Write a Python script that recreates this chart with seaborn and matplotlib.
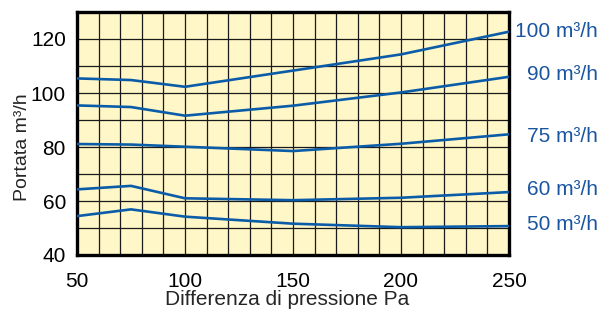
import matplotlib
matplotlib.use("Agg")
import matplotlib.pyplot as plt
import matplotlib.transforms as mtransforms
import seaborn as sns
import pandas as pd

pressure = [50, 75, 100, 150, 200, 250]
flow_100 = [105.4, 104.8, 102.3, 108.3, 114.3, 122.7]
flow_90 = [95.4, 94.8, 91.6, 95.3, 100.2, 106.0]
flow_75 = [81.1, 80.9, 80.1, 78.5, 81.2, 84.7]
flow_60 = [64.3, 65.6, 61.0, 60.3, 61.2, 63.3]
flow_50 = [54.4, 56.9, 54.2, 51.6, 50.3, 50.7]
series_labels = ["100 m³/h", "90 m³/h", "75 m³/h", "60 m³/h", "50 m³/h"]
label_y = [122.7, 106.7, 83.8, 64.1, 51.4]
x_ticks = [50, 100, 150, 200, 250]
y_ticks = [40, 60, 80, 100, 120]

sns.set_theme(style="white")
plt.rcParams['font.family'] = ['Liberation Sans', 'DejaVu Sans']

rows = []
for lab, vals in zip(series_labels, [flow_100, flow_90, flow_75, flow_60, flow_50]):
    for p, v in zip(pressure, vals):
        rows.append({"pressure": p, "flow": v, "series": lab})
df = pd.DataFrame(rows)

fig = plt.figure(figsize=(6.03, 3.11), dpi=100)
ax = fig.add_axes([77/603, 1-255/311, 432/603, 243/311])
ax.set_facecolor("#FFF7C8")

line_color = "#0B5CA8"
sns.lineplot(data=df, x="pressure", y="flow", units="series", estimator=None,
             color=line_color, lw=1.9, ax=ax, zorder=3, sort=False)

ax.set_xlim(50, 250)
ax.set_ylim(40, 130)
for gx in range(60, 250, 10):
    ax.axvline(gx, color="#1a1a1a", lw=0.9, zorder=1)
for gy in range(50, 130, 10):
    ax.axhline(gy, color="#1a1a1a", lw=0.9, zorder=1)

ax.set_xticks(x_ticks)
ax.set_yticks(y_ticks)
ax.tick_params(axis="both", length=0, labelsize=15, colors="black")
ax.tick_params(axis="y", pad=8)
ax.tick_params(axis="x", pad=12)
for s in ax.spines.values():
    s.set_color("black")
    s.set_linewidth(2.4)
    s.set_visible(True)

ax.set_xlabel("Differenza di pressione Pa", fontsize=15, labelpad=0)
ax.set_ylabel("Portata m³/h", fontsize=14)
ax.yaxis.set_label_coords(-0.107, 0.442)
ax.xaxis.set_label_coords(0.487, -0.142)

trans = mtransforms.blended_transform_factory(ax.transAxes, ax.transData)
for lab, yv in zip(series_labels, label_y):
    ax.text((598-77)/432, yv, lab, transform=trans, ha="right", va="center",
            fontsize=15, color="#1A55A0", clip_on=False)

fig.savefig("out.png", dpi=100)
